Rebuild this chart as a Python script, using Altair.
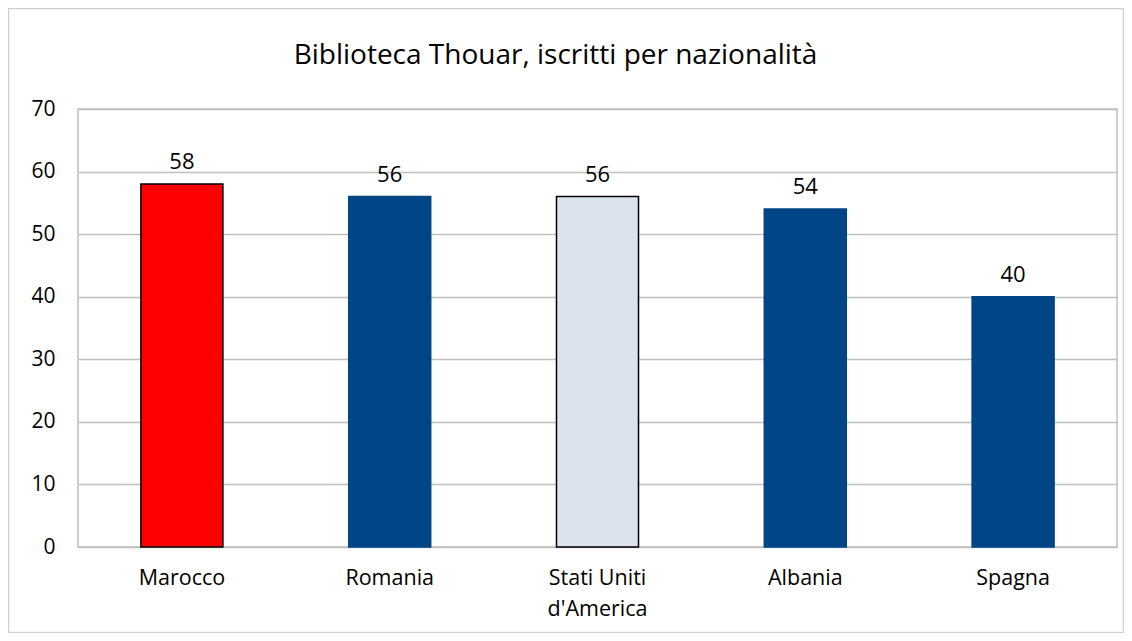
import altair as alt
import pandas as pd

categories = ["Marocco", "Romania", "Stati Uniti d'America", "Albania", "Spagna"]
values = [58, 56, 56, 54, 40]
fills = ["#FF0000", "#004586", "#DCE3EE", "#004586", "#004586"]
strokes = ["#000000", "#004586", "#000000", "#004586", "#004586"]
title_text = "Biblioteca Thouar, iscritti per nazionalità"

df = pd.DataFrame({"cat": categories, "val": values, "fill": fills, "stroke": strokes})
tdf = pd.DataFrame({"t": [title_text]})

FONT = "Open Sans"
W, H = 1039, 438

x = alt.X("cat:N", sort=categories, title=None,
          axis=alt.Axis(labelAngle=0, labelFontSize=21.5, labelColor="#000000", labelFont=FONT,
                        labelPadding=20, ticks=False, domain=False, labelLineHeight=31,
                        labelExpr="datum.label == \"Stati Uniti d'America\" ? ['Stati Uniti', \"d'America\"] : datum.label"))
y = alt.Y("val:Q", title=None, scale=alt.Scale(domain=[0, 70], nice=False),
          axis=alt.Axis(values=[0, 10, 20, 30, 40, 50, 60, 70], labelFontSize=21, labelColor="#000000",
                        labelFont=FONT, labelPadding=23, ticks=False, domain=False,
                        gridColor="#BFBFBF", gridWidth=1.5))

bars = alt.Chart(df).mark_bar(size=82, strokeWidth=1.5).encode(
    x=x, y=y,
    fill=alt.Fill("fill:N", scale=None),
    stroke=alt.Stroke("stroke:N", scale=None),
)

labels = alt.Chart(df).mark_text(baseline="bottom", dy=-10, fontSize=22, font=FONT, color="#000000").encode(
    x=alt.X("cat:N", sort=categories), y="val:Q", text="val:Q"
)

title = alt.Chart(tdf).mark_text(baseline="middle", align="center", fontSize=28, font=FONT, color="#000000").encode(
    x=alt.value(W / 2 - 42), y=alt.value(-53), text="t:N"
)

frame = alt.Chart(tdf).mark_rect(fill=None, stroke="#D0D0D0", strokeWidth=1.5).encode(
    x=alt.value(-69.5), x2=alt.value(1045.5), y=alt.value(-100.5), y2=alt.value(523.5)
)

chart = alt.layer(frame, title, bars, labels).properties(
    width=W, height=H,
    autosize=alt.AutoSizeParams(type="none"),
    padding={"left": 70, "top": 101, "right": 7, "bottom": 86},
).configure_view(stroke="#BFBFBF", strokeWidth=1.5)

chart.save("out.html", embed_options={"renderer": "svg", "actions": False})
